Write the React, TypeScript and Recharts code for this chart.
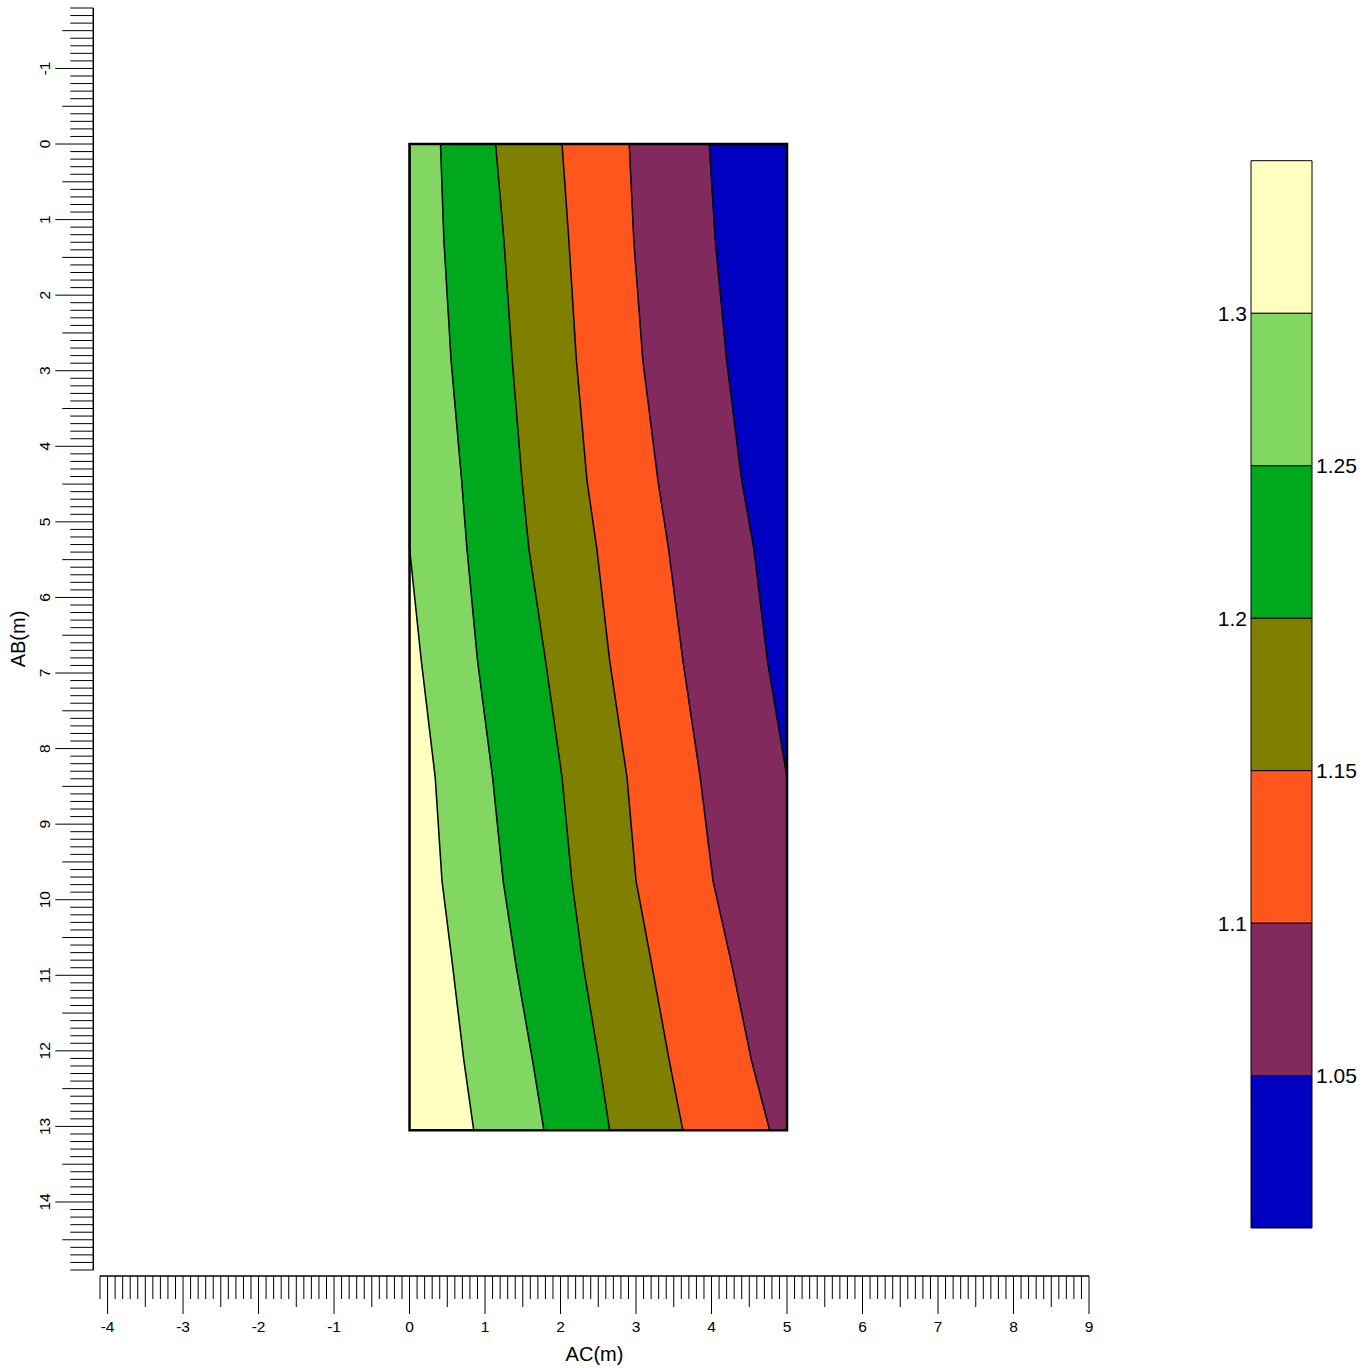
import React from 'react';
import { ComposedChart, Area, Line, XAxis, YAxis, ReferenceArea } from 'recharts';

// AB (m) rows at which the contour boundaries were read
const AB = [0, 1.27, 2.86, 4.45, 5.35, 6.83, 8.38, 9.75, 10.87, 12.13, 13.05];
// AC (m) position of each contour line along AB
const C130 = [0, 0, 0, 0, 0, 0.155, 0.34, 0.43, 0.57, 0.72, 0.85];
const C125 = [0.41, 0.455, 0.55, 0.69, 0.76, 0.9, 1.1, 1.24, 1.41, 1.63, 1.78];
const C120 = [1.14, 1.25, 1.36, 1.49, 1.58, 1.8, 2.02, 2.15, 2.3, 2.51, 2.65];
const C115 = [2.02, 2.11, 2.21, 2.35, 2.48, 2.65, 2.88, 3.0, 3.21, 3.44, 3.62];
const C110 = [2.91, 2.97, 3.09, 3.29, 3.43, 3.62, 3.85, 4.02, 4.27, 4.53, 4.77];
const C105 = [3.97, 4.05, 4.2, 4.4, 4.56, 4.74, 5.0, 5.0, 5.0, 5.0, 5.0];
const AC_LEFT = 0;
const AC_RIGHT = 5;
const AB_BOTTOM = 13.05;

// colour levels (low -> high)
const LEVELS = [1.0, 1.05, 1.1, 1.15, 1.2, 1.25, 1.3, 1.35];
const LEVEL_COLORS = ['#0000C0', '#822A5E', '#FF561D', '#808000', '#00A81D', '#82D763', '#FFFFC0'];
const LEFT_LABELS = [1.1, 1.2, 1.3];
const RIGHT_LABELS = [1.05, 1.15, 1.25];

const X_DOMAIN: [number, number] = [-4.1, 9];
const Y_DOMAIN: [number, number] = [-1.8, 14.9];

const FONT = '"Liberation Sans", Arial, Helvetica, sans-serif';

const rows = AB.map((ab, i) => ({
  ab,
  b0: AC_LEFT,
  b1: C130[i],
  b2: C125[i],
  b3: C120[i],
  b4: C115[i],
  b5: C110[i],
  b6: C105[i],
  b7: AC_RIGHT,
}));

// band k spans b_k .. b_{k+1}; colours left (high) to right (low)
const BAND_COLORS = [...LEVEL_COLORS].reverse();

const makeTicks = (lo: number, hi: number) => {
  const out: number[] = [];
  const n = Math.round((hi - lo) * 10);
  for (let i = 0; i <= n; i++) out.push(Math.round(lo * 10 + i) / 10);
  return out;
};
const xTicks = makeTicks(X_DOMAIN[0], X_DOMAIN[1]);
const yTicks = makeTicks(Y_DOMAIN[0], Y_DOMAIN[1]);

const isInt = (v: number) => Math.abs(v - Math.round(v)) < 1e-6;
const isHalf = (v: number) => Math.abs(v * 2 - Math.round(v * 2)) < 1e-6;
const tickLen = (v: number) => (isInt(v) ? 38 : isHalf(v) ? 31 : 23);

const XTick = (props: any) => {
  const { x, y, payload } = props;
  const v = payload.value;
  const y0 = y + 6;
  return (
    <g>
      <line x1={x} x2={x} y1={y0} y2={y0 + tickLen(v)} stroke="#000" strokeWidth={1} />
      {isInt(v) && (
        <text x={x} y={y + 62} textAnchor="middle" fontSize={15.5} fontFamily={FONT} fill="#000">
          {String(Math.round(v))}
        </text>
      )}
    </g>
  );
};

const YTick = (props: any) => {
  const { x, y, payload } = props;
  const v = payload.value;
  const x0 = x - 6.7;
  return (
    <g>
      <line x1={x0} x2={x0 - tickLen(v)} y1={y} y2={y} stroke="#000" strokeWidth={1} />
      {isInt(v) && (
        <text
          x={50}
          y={y}
          transform={`rotate(-90 50 ${y})`}
          textAnchor="middle"
          fontSize={15.5}
          fontFamily={FONT}
          fill="#000"
        >
          {String(Math.round(v))}
        </text>
      )}
    </g>
  );
};

const XTitle = (props: any) => {
  const vb = props.viewBox || {};
  const cx = vb.x + vb.width / 2;
  return (
    <text x={cx} y={1361} textAnchor="middle" fontSize={20} fontFamily={FONT} fill="#000">
      AC(m)
    </text>
  );
};

const YTitle = (props: any) => {
  const vb = props.viewBox || {};
  const cy = vb.y + vb.height / 2;
  const cx = 25;
  return (
    <text
      x={cx}
      y={cy}
      transform={`rotate(-90 ${cx} ${cy})`}
      textAnchor="middle"
      fontSize={20}
      fontFamily={FONT}
      fill="#000"
    >
      AB(m)
    </text>
  );
};

export default function App() {
  return (
    <div style={{ position: 'absolute', left: 0, top: 0, width: 1370, height: 1368, background: '#fff' }}>
      <div style={{ position: 'absolute', left: 0, top: 0 }}>
        <ComposedChart
          layout="vertical"
          width={1370}
          height={1368}
          data={rows}
          margin={{ top: 8, right: 281, bottom: 0, left: 0 }}
        >
          <XAxis
            type="number"
            domain={X_DOMAIN}
            ticks={xTicks}
            interval={0}
            allowDataOverflow
            tickLine={false}
            tickSize={0}
            tickMargin={0}
            tick={(p: any) => <XTick {...p} />}
            axisLine={{ stroke: '#000', strokeWidth: 1.5, transform: 'translate(0,6)' }}
            height={98}
            label={{ content: (p: any) => <XTitle {...p} /> }}
          />
          <YAxis
            type="number"
            dataKey="ab"
            domain={Y_DOMAIN}
            ticks={yTicks}
            interval={0}
            allowDataOverflow
            tickLine={false}
            tickSize={0}
            tickMargin={0}
            tick={(p: any) => <YTick {...p} />}
            axisLine={{ stroke: '#000', strokeWidth: 1.5, transform: 'translate(-6.7,0)' }}
            width={100}
            label={{ content: (p: any) => <YTitle {...p} /> }}
          />
          {BAND_COLORS.map((c, k) => (
            <Area
              key={`band${k}`}
              type="linear"
              dataKey={(d: any) => [d[`b${k}`], d[`b${k + 1}`]]}
              fill={c}
              fillOpacity={1}
              stroke={c}
              strokeWidth={0.5}
              isAnimationActive={false}
              dot={false}
              activeDot={false}
            />
          ))}
          {[1, 2, 3, 4, 5, 6].map((k) => (
            <Line
              key={`line${k}`}
              type="linear"
              dataKey={`b${k}`}
              stroke="#000"
              strokeWidth={1.5}
              dot={false}
              activeDot={false}
              isAnimationActive={false}
            />
          ))}
          <ReferenceArea
            x1={AC_LEFT}
            x2={AC_RIGHT}
            y1={0}
            y2={AB_BOTTOM}
            fill="none"
            fillOpacity={0}
            stroke="#000"
            strokeWidth={2.5}
            ifOverflow="visible"
          />
        </ComposedChart>
      </div>
      <div style={{ position: 'absolute', left: 1190, top: 140 }}>
        <ComposedChart width={180} height={1100} data={[{ v: 0 }]} margin={{ top: 20.7, right: 0, bottom: 12, left: 0 }}>
          <XAxis xAxisId="cb" type="number" hide domain={[0, 1]} />
          <YAxis
            yAxisId="l"
            orientation="left"
            type="number"
            domain={[LEVELS[0], LEVELS[LEVELS.length - 1]]}
            ticks={LEFT_LABELS}
            interval={0}
            allowDataOverflow
            width={61}
            axisLine={false}
            tickLine={false}
            tickSize={0}
            tickMargin={4}
            tick={{ fill: '#000', fontSize: 21, fontFamily: FONT }}
          />
          <YAxis
            yAxisId="r"
            orientation="right"
            type="number"
            domain={[LEVELS[0], LEVELS[LEVELS.length - 1]]}
            ticks={RIGHT_LABELS}
            interval={0}
            allowDataOverflow
            width={58}
            axisLine={false}
            tickLine={false}
            tickSize={0}
            tickMargin={4}
            tick={{ fill: '#000', fontSize: 21, fontFamily: FONT }}
          />
          {LEVEL_COLORS.map((c, i) => (
            <ReferenceArea
              key={`cb${i}`}
              xAxisId="cb"
              yAxisId="l"
              y1={LEVELS[i]}
              y2={LEVELS[i + 1]}
              fill={c}
              fillOpacity={1}
              stroke="#000"
              strokeWidth={1}
            />
          ))}
        </ComposedChart>
      </div>
    </div>
  );
}
